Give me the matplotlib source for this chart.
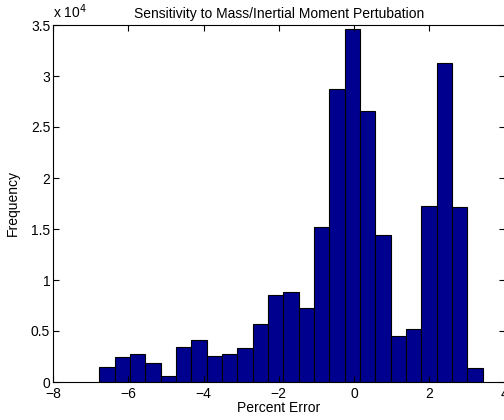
import numpy as np
import matplotlib.pyplot as plt
from matplotlib.ticker import FuncFormatter

plt.rcParams['font.family'] = ['Liberation Sans', 'DejaVu Sans']

# histogram bin centres (percent error) and counts
bin_centers = [-6.566, -6.158, -5.751, -5.343, -4.936, -4.528, -4.120, -3.713,
               -3.305, -2.898, -2.490, -2.082, -1.675, -1.267, -0.860, -0.452,
               -0.044, 0.363, 0.771, 1.178, 1.586, 1.994, 2.401, 2.809, 3.216]
counts = [1440, 2460, 2780, 1900, 560, 3470, 4160, 2520, 2780, 3310,
          5700, 8520, 8850, 7240, 15170, 28680, 34640, 26540, 14420, 4520,
          5240, 17270, 31230, 17200, 1410]
bin_width = 0.4076

xticks = [-8, -6, -4, -2, 0, 2, 4]
yticks = [0, 5000, 10000, 15000, 20000, 25000, 30000, 35000]

fig = plt.figure(figsize=(5.04, 4.2), dpi=100)
ax = fig.add_axes([53 / 504, 38 / 420, 451.5 / 504, 357 / 420])

ax.bar(bin_centers, counts, width=bin_width, color='#00008F',
       edgecolor='black', linewidth=0.8)

ax.set_xlim(-8, 4)
ax.set_ylim(0, 35000)
ax.set_xticks(xticks)
ax.set_yticks(yticks)
ax.yaxis.set_major_formatter(FuncFormatter(lambda v, p: '%g' % (v / 1e4)))
ax.tick_params(direction='in', top=True, right=True, labelsize=10, length=4)
ax.tick_params(axis='x', pad=3.5)
ax.tick_params(axis='y', pad=2)
for s in ax.spines.values():
    s.set_linewidth(0.8)

ax.text(0.0, 1.01, r'x 10$^{4}$', transform=ax.transAxes, fontsize=10,
        ha='left', va='bottom')
ax.set_title('Sensitivity to Mass/Inertial Moment Pertubation', fontsize=10, pad=5)
ax.set_xlabel('Percent Error', fontsize=10, labelpad=0)
ax.set_ylabel('Frequency', fontsize=10, labelpad=8)

fig.savefig('out.png', dpi=100)
